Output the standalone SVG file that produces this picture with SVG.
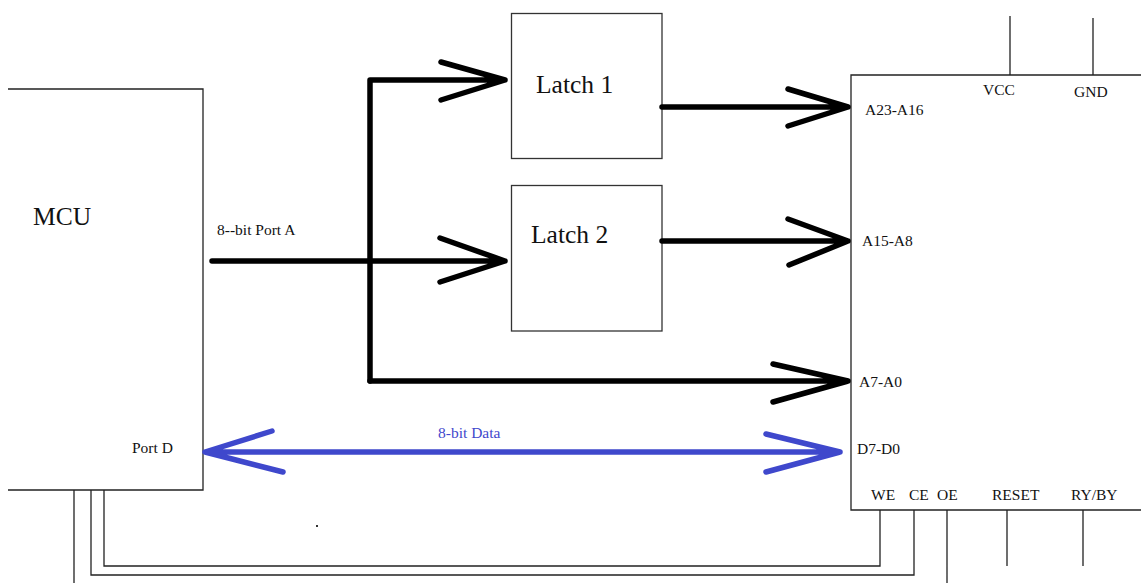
<svg xmlns="http://www.w3.org/2000/svg" width="1141" height="583" viewBox="0 0 1141 583">
<style>
.box{fill:#fff;stroke:#333;stroke-width:1.3}
.thin{fill:none;stroke:#222;stroke-width:1.3}
.bus{fill:none;stroke:#000;stroke-width:5.5;stroke-linecap:round;stroke-linejoin:round}
.blue{fill:none;stroke:#3f48cc;stroke-width:5.5;stroke-linecap:round;stroke-linejoin:round}
text{font-family:"Liberation Serif","Times New Roman",serif;fill:#111}
.s{font-size:15.5px}
.l{font-size:25.5px}
</style>
<rect width="1141" height="583" fill="#fff"/>
<g id="mcu">
<path class="thin" d="M8 89H203V490H8"/>
<text class="l" x="33" y="225">MCU</text>
<text class="s" x="132" y="453">Port D</text>
<text class="s" x="217" y="235">8--bit Port A</text>
</g>
<g id="latch1">
<rect class="box" x="511.5" y="13.5" width="150.5" height="145"/>
<text class="l" x="536" y="93">Latch 1</text>
</g>
<g id="latch2">
<rect class="box" x="511.5" y="185.5" width="150.5" height="145.5"/>
<text class="l" x="531" y="243">Latch 2</text>
</g>
<g id="flash">
<path class="thin" d="M1141 75H851V510H1141"/>
<text class="s" x="865" y="115">A23-A16</text>
<text class="s" x="862" y="246">A15-A8</text>
<text class="s" x="859" y="387">A7-A0</text>
<text class="s" x="857" y="454">D7-D0</text>
<text class="s" x="983" y="95">VCC</text>
<text class="s" x="1074" y="97">GND</text>
<text class="s" x="871" y="500">WE</text>
<text class="s" x="909" y="500">CE</text>
<text class="s" x="937" y="500">OE</text>
<text class="s" x="992" y="500">RESET</text>
<text class="s" x="1071" y="500">RY/BY</text>
</g>
<g id="connectors">
<path class="thin" d="M1010 16V75M1093 18V75"/>
<path class="thin" d="M880 510V566H104V490M914 510V575H91V490M74 490V583M947 510V583M1007 510V566M1083 510V566"/>
<path class="bus" d="M370 381V80H505M441 62L505 80L441 100"/>
<path class="bus" d="M212 261H505M440 238L505 261L440 282"/>
<path class="bus" d="M370 381H848M773 364L848 381L773 402"/>
<path class="bus" d="M662 107H848M788 89L848 107L788 126"/>
<path class="bus" d="M662 241H848M788 219L848 241L789 265"/>
<path class="blue" d="M205 452H840M272 431L205 452L283 472M766 434L840 452L766 472"/>
<text x="438" y="438" font-size="15.5" style="fill:#3f48cc">8-bit Data</text>
<rect x="316" y="525" width="2" height="2" fill="#333"/>
</g>
</svg>
